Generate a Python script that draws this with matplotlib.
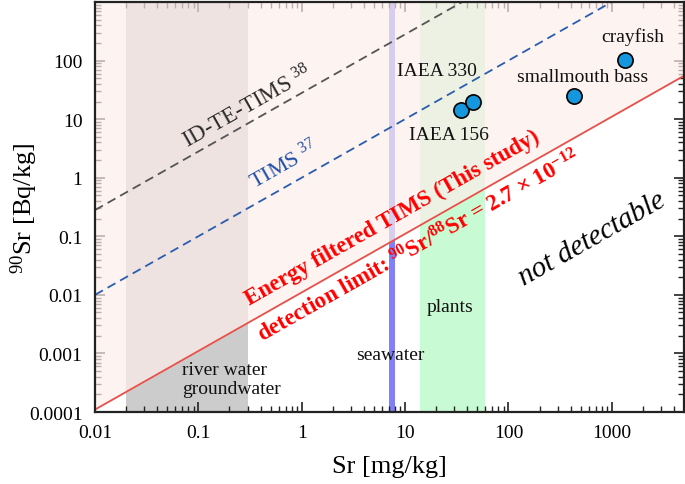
import numpy as np
import matplotlib
matplotlib.use("Agg")
import matplotlib.pyplot as plt
from matplotlib.ticker import FixedLocator, LogLocator, NullFormatter

plt.rcParams['font.family'] = ['Liberation Serif', 'DejaVu Serif']
plt.rcParams['mathtext.fontset'] = 'custom'
plt.rcParams['mathtext.rm'] = 'Liberation Serif'
plt.rcParams['mathtext.it'] = 'Liberation Serif:italic'
plt.rcParams['mathtext.bf'] = 'Liberation Serif:bold'

# ---- data ----
x_limits = [0.01, 5000]
y_limits = [1e-4, 1e3]
x_ticks = [0.01, 0.1, 1, 10, 100, 1000]
x_tick_labels = ["0.01", "0.1", "1", "10", "100", "1000"]
y_ticks = [1e-4, 1e-3, 1e-2, 1e-1, 1, 10, 100]
y_tick_labels = ["0.0001", "0.001", "0.01", "0.1", "1", "10", "100"]

# detection limit lines: Bq/kg per mg/kg Sr
coef_this_study = 0.011
coef_tims = 1.0
coef_idte_tims = 28.0

# concentration ranges (mg/kg)
river_range = [0.02, 0.3]
seawater_range = [7.0, 8.0]
plants_range = [14.0, 60.0]

# samples
sample_names = ["IAEA 156", "IAEA 330", "smallmouth bass", "crayfish"]
sample_sr = [35.0, 45.5, 435.0, 1340.0]
sample_sr90 = [14.6, 20.0, 24.4, 104.0]

fig = plt.figure(figsize=(6.85, 4.85), dpi=100)
ax = fig.add_axes([95/685, 1-413/485, 589/685, 410/485])
ax.set_xscale('log')
ax.set_yscale('log')
ax.set_xlim(x_limits)
ax.set_ylim(y_limits)

xs = np.logspace(np.log10(x_limits[0]), np.log10(x_limits[1]), 200)

# bands
ax.axvspan(*river_range, color='#cccccc', lw=0, zorder=1)
ax.axvspan(*seawater_range, color='#8080f8', lw=0, zorder=1)
ax.axvspan(*plants_range, color='#c8fbd3', lw=0, zorder=1)

# detectable region overlay
ax.fill_between(xs, coef_this_study * xs, y_limits[1], color='#fdeeeb', alpha=0.7, lw=0, zorder=2)

# lines
ax.plot(xs, coef_this_study * xs, color='#e8504a', lw=1.3, zorder=3)
ax.plot(xs, coef_tims * xs, color='#2a5db0', lw=1.3, ls=(0, (5, 3)), zorder=3)
ax.plot(xs, coef_idte_tims * xs, color='#555555', lw=1.3, ls=(0, (5, 3)), zorder=3)

# samples
ax.scatter(sample_sr, sample_sr90, s=120, facecolor='#1497dc', edgecolor='black', lw=1.2, zorder=5)

# angle of slope-1 line on screen
fig.canvas.draw()
p0 = ax.transData.transform((1, 1))
p1 = ax.transData.transform((10, 10))
ang = np.degrees(np.arctan2(p1[1]-p0[1], p1[0]-p0[0]))

rot = dict(rotation=ang, rotation_mode='anchor', ha='center', va='center')
ax.text(0.30, 16.5, r"ID-TE-TIMS $^{38}$", color='#2b2b2b', fontsize=16.5, zorder=6, **rot)
ax.text(0.68, 1.7, r"TIMS $^{37}$", color='#1f4fa8', fontsize=16, zorder=6, **rot)
ax.text(7.5, 0.214, "Energy filtered TIMS (This study)", color='#ff0000', fontsize=16.5,
        fontweight='bold', zorder=6, **rot)
ax.text(13.6, 0.0686, r"detection limit: $^{\mathbf{90}}$Sr/$^{\mathbf{88}}$Sr = 2.7 × 10$^{\mathbf{-12}}$",
        color='#ff0000', fontsize=16.5, fontweight='bold', zorder=6, **rot)
ax.text(647, 0.0903, "not detectable", color='black', fontsize=21, style='italic', zorder=6, **rot)

lab = dict(fontsize=14, ha='center', va='center', color='#111111', zorder=6)
ax.text(1614, 263, "crayfish", **lab)
ax.text(518, 52.5, "smallmouth bass", **lab)
ax.text(20.5, 69, "IAEA 330", **lab)
ax.text(26.7, 5.37, "IAEA 156", **lab)
ax.text(27.4, 0.00624, "plants", **lab)
ax.text(7.18, 0.000946, "seawater", **lab)
ax.text(0.0695, 0.000369, "river water\ngroundwater", fontsize=14, ha='left', va='center',
        color='#111111', linespacing=1.15, zorder=6)

# ticks
ax.xaxis.set_major_locator(FixedLocator(x_ticks))
ax.set_xticklabels(x_tick_labels)
ax.yaxis.set_major_locator(FixedLocator(y_ticks))
ax.set_yticklabels(y_tick_labels)
ax.xaxis.set_minor_locator(LogLocator(base=10, subs=np.arange(2, 10), numticks=20))
ax.yaxis.set_minor_locator(LogLocator(base=10, subs=np.arange(2, 10), numticks=20))
ax.xaxis.set_minor_formatter(NullFormatter())
ax.yaxis.set_minor_formatter(NullFormatter())
ax.tick_params(which='both', direction='in', top=True, right=True, labelsize=14, color='#222222')
ax.tick_params(which='major', length=7, width=1.2, pad=9)
ax.tick_params(which='minor', length=4, width=1.0)
for sp in ax.spines.values():
    sp.set_linewidth(1.6)
    sp.set_color('#222222')
    sp.set_zorder(7)

ax.set_xlabel("Sr [mg/kg]", fontsize=19, labelpad=10)
ax.set_ylabel(r"$^{90}$Sr [Bq/kg]", fontsize=19)
ax.yaxis.set_label_coords(-0.094, 0.5)

fig.savefig("out.png", dpi=100)
